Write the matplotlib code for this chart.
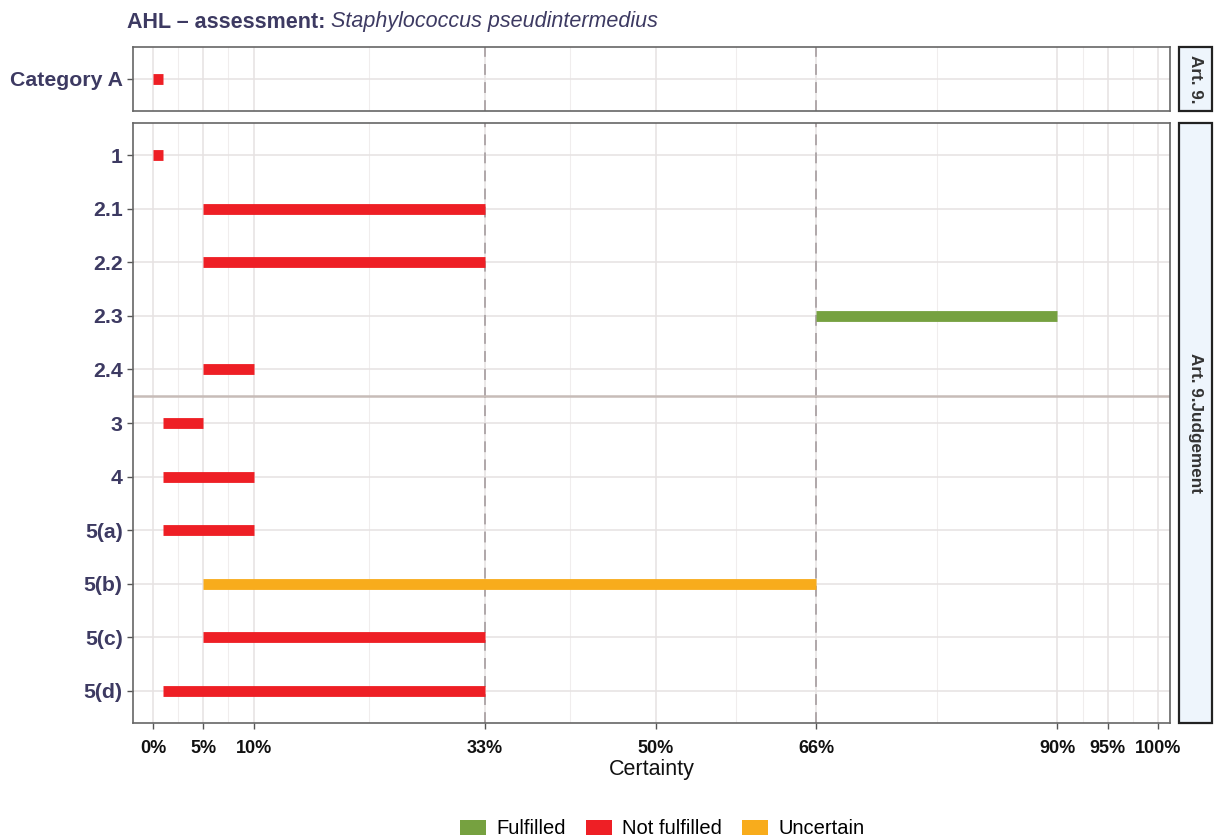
import matplotlib
matplotlib.use('Agg')
import matplotlib.pyplot as plt
from matplotlib.patches import Patch, Rectangle

plt.rcParams['font.family'] = ['Liberation Sans Narrow', 'Liberation Sans', 'DejaVu Sans']

# data
top_cat = ['Category A']
top_start = [0]
top_end = [1]
top_status = ['Not fulfilled']

cats = ['1', '2.1', '2.2', '2.3', '2.4', '3', '4', '5(a)', '5(b)', '5(c)', '5(d)']
starts = [0, 5, 5, 66, 5, 1, 1, 1, 5, 5, 1]
ends = [1, 33, 33, 90, 10, 5, 10, 10, 66, 33, 33]
status = ['Not fulfilled', 'Not fulfilled', 'Not fulfilled', 'Fulfilled', 'Not fulfilled',
          'Not fulfilled', 'Not fulfilled', 'Not fulfilled', 'Uncertain', 'Not fulfilled',
          'Not fulfilled']

xticks = [0, 5, 10, 33, 50, 66, 90, 95, 100]
xticklabels = ['0%', '5%', '10%', '33%', '50%', '66%', '90%', '95%', '100%']

colors = {'Fulfilled': '#76A140', 'Not fulfilled': '#EE1F25', 'Uncertain': '#F8AC1C'}
label_col = '#3D3A62'

fig = plt.figure(figsize=(12.15, 8.38), dpi=100)
W, H = 1215, 838
ax1 = fig.add_axes([133 / W, 1 - 111 / H, (1170 - 133) / W, 64 / H])
ax2 = fig.add_axes([133 / W, 1 - 723 / H, (1170 - 133) / W, 600 / H])

minor = [(a + b) / 2 for a, b in zip(xticks[:-1], xticks[1:])]


def style(ax, labels, bottom):
    n = len(labels)
    ax.set_xlim(-2, 101.2)
    ax.set_ylim(n - 1 + 0.6, -0.6)
    ax.set_yticks(range(n))
    ax.set_yticklabels(labels, fontsize=15.3, fontweight='bold', color=label_col)
    ax.set_xticks(xticks)
    ax.set_xticks(minor, minor=True)
    ax.grid(True, which='major', color='#E6E2E2', linewidth=1.1)
    ax.grid(True, which='minor', axis='x', color='#F0EDED', linewidth=0.8)
    ax.set_axisbelow(True)
    for s in ax.spines.values():
        s.set_color('#666666')
        s.set_linewidth(1.2)
    ax.tick_params(axis='both', which='major', color='#555555', length=4, width=1)
    ax.tick_params(axis='x', which='minor', length=0)
    if bottom:
        ax.set_xticklabels(xticklabels, fontsize=13, fontweight='bold', color='#111111')
        ax.tick_params(axis='x', pad=8)
    else:
        ax.tick_params(axis='x', labelbottom=False, length=0)
    for v in [33, 66]:
        ax.axvline(v, color='#ABA3A5', linestyle=(0, (6, 4)), linewidth=1.3, zorder=1)


style(ax1, top_cat, False)
style(ax2, cats, True)

for i, (s, e, st) in enumerate(zip(top_start, top_end, top_status)):
    ax1.hlines(i, s, e, colors=colors[st], linewidth=7.8, zorder=3)
for i, (s, e, st) in enumerate(zip(starts, ends, status)):
    ax2.hlines(i, s, e, colors=colors[st], linewidth=7.8, zorder=3)

ax2.axhline(4.5, color='#C7BCB8', linewidth=1.8, zorder=2)
ax2.set_xlabel('Certainty', fontsize=15.5, color='#111111', labelpad=2)

# facet strips on the right
for ax, txt in [(ax1, 'Art. 9.'), (ax2, 'Art. 9.Judgement')]:
    pos = ax.get_position()
    r = Rectangle((1179 / W, pos.y0), 33 / W, pos.height, transform=fig.transFigure,
                  facecolor='#EEF5FC', edgecolor='#222222', linewidth=1.6)
    fig.add_artist(r)
    fig.text(1195.5 / W, pos.y0 + pos.height / 2, txt, rotation=-90, ha='center', va='center',
             fontsize=12.3, fontweight='bold', color='#333333')

# title: bold part + italic part
t1 = fig.text(127 / W, 1 - 22 / H, 'AHL \u2013 assessment: ', fontsize=15.5, fontweight='bold',
              color=label_col, va='center', ha='left')
fig.canvas.draw()
bb = t1.get_window_extent()
fig.text(bb.x1 / W, 1 - 22 / H, 'Staphylococcus pseudintermedius', fontsize=15.5,
         style='italic', color=label_col, va='center', ha='left')

handles = [Patch(facecolor=colors[k], edgecolor='none', label=k)
           for k in ['Fulfilled', 'Not fulfilled', 'Uncertain']]
fig.legend(handles=handles, loc='lower center', bbox_to_anchor=(0.545, -0.022), ncol=3,
           frameon=False, fontsize=14.5, handlelength=1.3, handleheight=0.8,
           handletextpad=0.5, columnspacing=1.0)

fig.savefig('out.png', dpi=100)
